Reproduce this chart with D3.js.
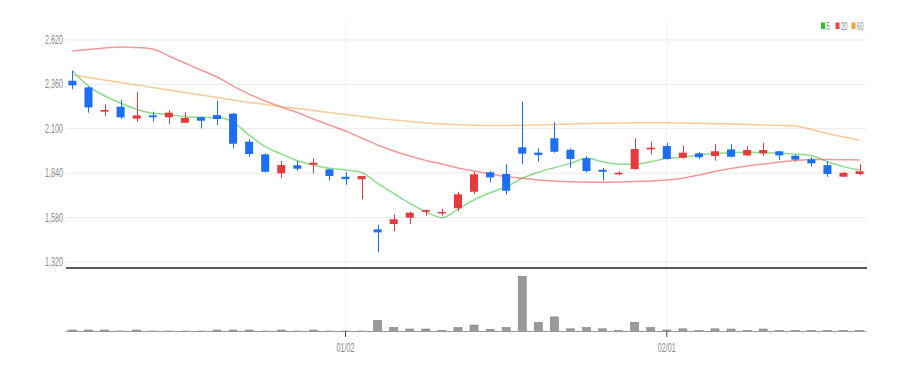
<!DOCTYPE html>
<html><head><meta charset="utf-8">
<script src="https://cdn.jsdelivr.net/npm/d3@7"></script>
<style>html,body{margin:0;padding:0;background:#fff;} svg{display:block;}</style>
</head><body><svg id="c" width="913" height="373"></svg>
<script>
const dates = ["12/07","12/08","12/09","12/12","12/13","12/14","12/15","12/16","12/19","12/20","12/21","12/22","12/23","12/26","12/27","12/28","12/29",
"01/02","01/03","01/04","01/05","01/06","01/09","01/10","01/11","01/12","01/13","01/16","01/17","01/18","01/19","01/20","01/23","01/24","01/25","01/26","01/31",
"02/01","02/02","02/03","02/06","02/07","02/08","02/09","02/10","02/13","02/14","02/15","02/16","02/17"];
const openP  = [2381,2342,2200,2229,2159,2178,2167,2135,2167,2180,2188,2024,1950,1839,1886,1889,1862,1819,1804,1511,1542,1579,1614,1605,1634,1731,1845,1835,1991,1960,2044,1977,1927,1860,1833,1864,1979,1999,1930,1956,1940,1979,1944,1956,1968,1942,1921,1887,1819,1835];
const highP  = [2440,2347,2243,2268,2315,2200,2210,2196,2171,2264,2192,2038,1956,1911,1911,1927,1867,1846,1823,1538,1599,1614,1627,1632,1731,1848,1852,1892,2258,1985,2138,1984,1940,1870,1852,2044,2024,2018,2001,1961,2010,2010,1999,2018,1970,1948,1933,1907,1846,1893];
const lowP   = [2332,2194,2176,2157,2139,2141,2128,2132,2102,2122,1985,1936,1844,1810,1852,1839,1796,1772,1687,1378,1501,1542,1591,1591,1618,1718,1786,1716,1893,1907,1960,1872,1845,1796,1827,1861,1950,1920,1924,1921,1913,1933,1940,1940,1917,1909,1878,1819,1817,1827];
const closeP = [2354,2225,2210,2167,2178,2167,2194,2163,2147,2157,2012,1952,1848,1887,1866,1901,1823,1805,1823,1493,1570,1608,1624,1612,1716,1833,1815,1737,1954,1946,1965,1923,1852,1848,1842,1981,1989,1923,1960,1933,1968,1936,1975,1975,1944,1919,1897,1835,1842,1851];
const volume = [15000,15000,15000,5000,15000,5000,5000,5000,5000,15000,15000,15000,5000,15000,5000,15000,5000,5000,5000,110000,40000,25000,25000,12000,40000,65000,22000,40000,557000,93000,147000,27000,40000,27000,10000,93000,40000,15000,27000,10000,27000,25000,10000,25000,10000,10000,10000,10000,10000,10000];
const ma5  = [2440,2350,2293,2249,2214,2190,2184,2170,2167,2166,2139,2063,1995,1952,1913,1888,1868,1858,1844,1780,1722,1663,1614,1579,1628,1683,1725,1760,1810,1845,1872,1897,1927,1907,1892,1892,1907,1927,1933,1946,1956,1960,1962,1960,1956,1952,1943,1907,1878,1858];
const ma20 = [2555,2564,2573,2578,2576,2567,2526,2485,2444,2403,2350,2303,2262,2227,2195,2157,2122,2087,2046,2005,1970,1940,1914,1893,1870,1852,1835,1820,1810,1800,1794,1790,1788,1786,1788,1791,1794,1800,1810,1829,1850,1867,1882,1893,1905,1914,1920,1920,1919,1917];
const ma60 = [2415,2400,2385,2371,2356,2341,2327,2312,2297,2283,2268,2254,2242,2230,2218,2207,2195,2183,2172,2160,2151,2142,2133,2128,2123,2120,2119,2119,2121,2122,2125,2128,2131,2132,2133,2135,2135,2135,2133,2132,2129,2128,2125,2122,2119,2116,2095,2072,2052,2034];
const yTicks = [1320,1580,1840,2100,2360,2620];
const maNames = ["5","20","60"];
const maColors = ["#2fbf2f","#ee4444","#f2a043"];

const svg = d3.select("#c");
const L = 66, R = 866;
const idx = d3.range(dates.length);
const x = d3.scalePoint().domain(idx).range([L, R]).padding(0.4);
const y = d3.scaleLinear().domain([1284.5, 2725]).range([268, 22]);
const vy = d3.scaleLinear().domain([0, 600000]).range([331.5, 272]);
const bw = x.step() * 0.5;
const UP = "#e8393c", DOWN = "#1b6ff0";
const FONT = "'Liberation Sans', Arial, sans-serif";

function txt(g, px, py, s, anchor, size, color) {
  g.append("text").attr("transform", `translate(${px},${py}) scale(0.6,1)`)
    .attr("text-anchor", anchor).attr("font-family", FONT).attr("font-size", size)
    .attr("fill", color).text(s);
}

// month-change ticks
const tickIdx = idx.filter(i => i > 0 && dates[i].slice(0,2) !== dates[i-1].slice(0,2));

// horizontal grid
const grid = svg.append("g");
yTicks.forEach(t => {
  grid.append("line").attr("x1", L).attr("x2", R).attr("y1", y(t)).attr("y2", y(t))
    .attr("stroke", "#ebebeb").attr("stroke-width", 1);
  txt(grid, 63, y(t) + 4, d3.format(",")(t), "end", 12, "#8a8a8a");
});
// vertical grid
tickIdx.forEach(i => {
  grid.append("line").attr("x1", x(i)).attr("x2", x(i)).attr("y1", 22).attr("y2", 331.5)
    .attr("stroke", "#f0f0f0").attr("stroke-width", 1);
});

// moving averages
const maG = svg.append("g");
[ma5, ma20, ma60].forEach((arr, k) => {
  const line = d3.line().x((d, i) => x(i)).y(d => y(d)).curve(d3.curveMonotoneX);
  maG.append("path").attr("d", line(arr)).attr("fill", "none")
    .attr("stroke", maColors[k]).attr("stroke-opacity", 0.55).attr("stroke-width", 1.5);
});

// candles
const cg = svg.append("g");
idx.forEach(i => {
  const o = openP[i], c = closeP[i], h = highP[i], l = lowP[i];
  const col = c >= o ? UP : DOWN;
  const cx = Math.round(x(i)) + 0.5;
  cg.append("line").attr("x1", cx).attr("x2", cx).attr("y1", y(h)).attr("y2", y(l))
    .attr("stroke", col).attr("stroke-width", 1);
  const top = y(Math.max(o, c)), bot = y(Math.min(o, c));
  const hgt = Math.max(bot - top, 1.6);
  cg.append("rect").attr("x", x(i) - bw / 2).attr("y", (top + bot) / 2 - hgt / 2)
    .attr("width", bw).attr("height", hgt).attr("fill", col);
});

// separator
svg.append("line").attr("x1", L).attr("x2", R + 1).attr("y1", 268).attr("y2", 268)
  .attr("stroke", "#222").attr("stroke-width", 1.6);

// volume
const vg = svg.append("g");
idx.forEach(i => {
  vg.append("rect").attr("x", x(i) - bw / 2).attr("y", vy(volume[i]))
    .attr("width", bw).attr("height", vy(0) - vy(volume[i]))
    .attr("fill", "#9a9a9a").attr("stroke", "#808080").attr("stroke-width", 0.6);
});
vg.append("line").attr("x1", L).attr("x2", R).attr("y1", 331.5).attr("y2", 331.5)
  .attr("stroke", "#9a9a9a").attr("stroke-width", 1.2);

// x axis ticks & labels
tickIdx.forEach(i => {
  svg.append("line").attr("x1", x(i)).attr("x2", x(i)).attr("y1", 331).attr("y2", 337)
    .attr("stroke", "#444").attr("stroke-width", 1);
  txt(svg, x(i), 352, dates[i], "middle", 12, "#8a8a8a");
});

// legend
const lg = svg.append("g");
const lx = [821, 835.5, 851.5];
maNames.forEach((n, k) => {
  lg.append("rect").attr("x", lx[k]).attr("y", 22.5).attr("width", 4).attr("height", 6.5).attr("fill", maColors[k]);
  txt(lg, lx[k] + 5.5, 29.5, n, "start", 10, "#888");
});
</script></body></html>
